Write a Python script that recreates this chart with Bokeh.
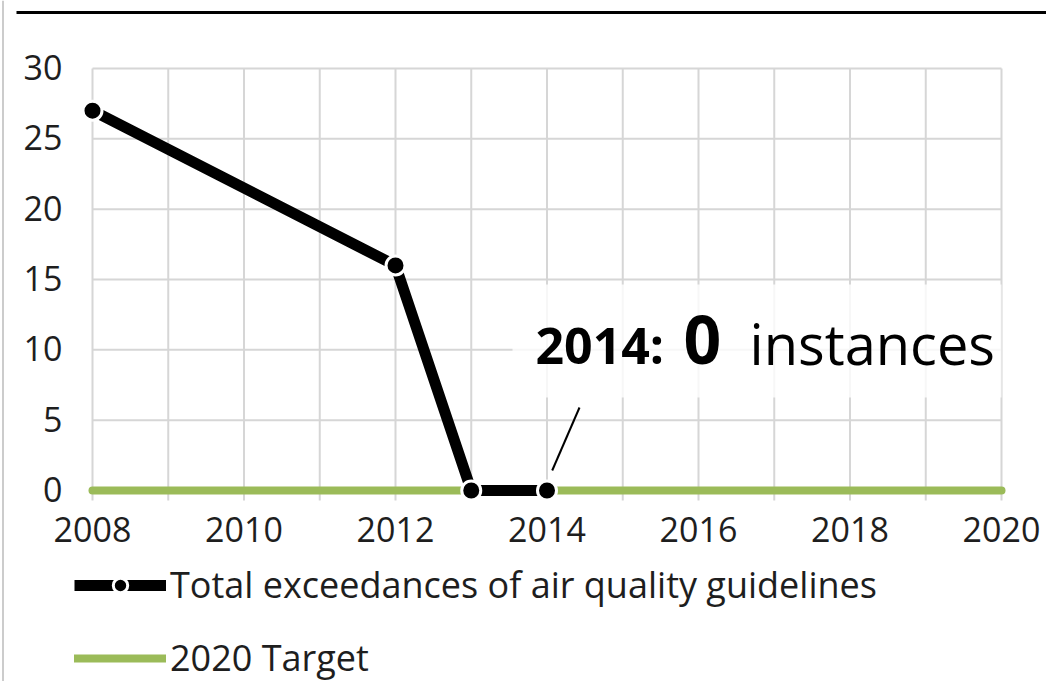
from bokeh.plotting import figure
from bokeh.models import Range1d, Legend, LegendItem
from bokeh.core.properties import value
from bokeh.embed import file_html
from bokeh.resources import INLINE

# ---- data ----
years = [2008, 2012, 2013, 2014]
exceedances = [27, 16, 0, 0]
target_years = [2008, 2020]
target_values = [0, 0]
x_ticks = [2008, 2010, 2012, 2014, 2016, 2018, 2020]
y_ticks = [0, 5, 10, 15, 20, 25, 30]
grid_years = list(range(2008, 2021))
series_label = "Total exceedances of air quality guidelines"
target_label = "2020 Target"
callout_year = "2014:"
callout_value = "0"
callout_unit = "instances"

FONT = "Open Sans"
TXT = "#1E1E1E"
GRID = "#D6D6D6"
GREEN = "#9BBB59"

W, H = 1046, 681
# pixel geometry of the plotting grid inside the figure
X0_PX, X1_PX = 92.0, 1001.0     # 2008 .. 2020
Y0_PX, Y30_PX = 490.0, 68.0     # 0 .. 30 (from top)
ppx = (X1_PX - X0_PX) / (x_ticks[-1] - x_ticks[0])
ppy = (Y0_PX - Y30_PX) / (y_ticks[-1] - y_ticks[0])
xs = x_ticks[0] - X0_PX / ppx
xe = x_ticks[-1] + (W - X1_PX) / ppx
ye = y_ticks[-1] + Y30_PX / ppy
ys = y_ticks[0] - (H - Y0_PX) / ppy

def px2x(px):
    return xs + px / ppx

def px2y(py):
    return ye - py / ppy

p = figure(width=W, height=H, x_range=Range1d(xs, xe), y_range=Range1d(ys, ye),
           output_backend="svg", toolbar_location=None,
           min_border=0, x_axis_type=None, y_axis_type=None)
p.outline_line_color = None
p.background_fill_color = "white"
p.border_fill_color = "white"

# frame rules
p.segment(x0=[px2x(16)], y0=[px2y(12)], x1=[xe], y1=[px2y(12)], line_color="black", line_width=3)
p.segment(x0=[px2x(2.5)], y0=[ye], x1=[px2x(2.5)], y1=[ys], line_color="#CCCCCC", line_width=2)

# grid (vertical lines extend a little below zero like tick marks)
tick_ext = 10 / ppy
p.segment(x0=grid_years, y0=[y_ticks[0] - tick_ext] * len(grid_years),
          x1=grid_years, y1=[y_ticks[-1]] * len(grid_years),
          line_color=GRID, line_width=2)
p.segment(x0=[grid_years[0]] * len(y_ticks), y0=y_ticks,
          x1=[grid_years[-1]] * len(y_ticks), y1=y_ticks,
          line_color=GRID, line_width=2)

# tick labels
p.text(x=[px2x(62)] * len(y_ticks), y=y_ticks, text=[str(v) for v in y_ticks],
       text_align="right", text_baseline="alphabetic", y_offset=-1,
       text_font=value(FONT), text_font_size="34px", text_color=TXT)
p.text(x=x_ticks, y=[px2y(529)] * len(x_ticks), text=[str(v) for v in x_ticks],
       text_align="center", text_baseline="alphabetic",
       text_font=value(FONT), text_font_size="34px", text_color=TXT)

# series
r_target = p.line(target_years, target_values, line_color=GREEN, line_width=8, line_cap="round")
r_line = p.line(years, exceedances, line_color="black", line_width=11, line_join="round")
r_pts = p.scatter(years, exceedances, size=19, fill_color="black", line_color="white", line_width=3)

# callout
p.quad(left=[px2x(512)], right=[px2x(1001)], top=[px2y(284)], bottom=[px2y(397)],
       fill_color="white", fill_alpha=0.8, line_alpha=0)
p.segment(x0=[px2x(551.7)], y0=[px2y(470)], x1=[px2x(579)], y1=[px2y(407)],
          line_color="black", line_width=2)
p.text(x=[px2x(535)], y=[px2y(344)], text=[callout_year], text_font=value(FONT), text_font_style="bold",
       text_font_size="50px", text_color="black", text_baseline="alphabetic")
p.text(x=[px2x(683)], y=[px2y(339)], text=[callout_value], text_font=value(FONT), text_font_style="bold",
       text_font_size="66px", text_color="black", text_baseline="alphabetic")
p.text(x=[px2x(749)], y=[px2y(342)], text=[callout_unit], text_font=value(FONT),
       text_font_size="56px", text_color="black", text_baseline="alphabetic")

# legend
legend = Legend(items=[LegendItem(label=series_label, renderers=[r_line, r_pts]),
                       LegendItem(label=target_label, renderers=[r_target])],
                location=(74, -1), orientation="vertical",
                glyph_width=92, glyph_height=36, label_height=36, spacing=24,
                label_standoff=4, padding=0, margin=0,
                border_line_alpha=0, background_fill_alpha=0,
                label_text_font=FONT, label_text_font_size="36px", label_text_color=TXT)
p.add_layout(legend, "center")

open("out.html", "w").write(file_html(p, INLINE))
